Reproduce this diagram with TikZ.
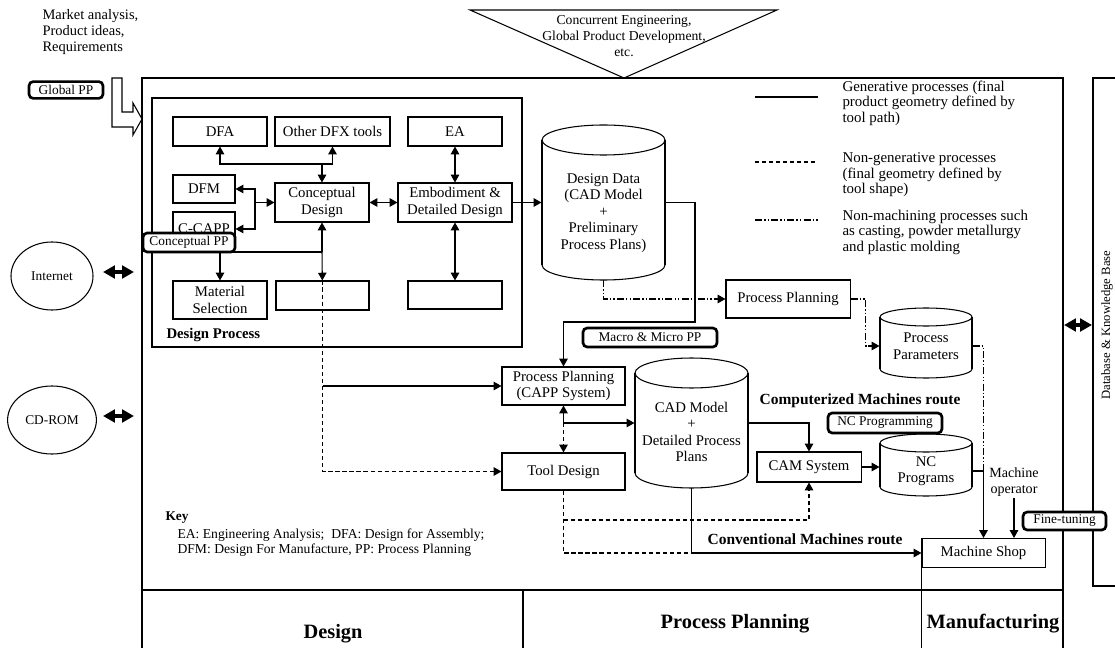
\documentclass[tikz,border=0pt]{standalone}
\usepackage{fontspec}
\setmainfont{Liberation Serif}
\usetikzlibrary{arrows.meta,positioning,shapes.geometric}

\tikzset{
  block/.style={draw, fill=white, align=center, inner sep=1pt},
  pptag/.style={draw, fill=white, rounded corners=3pt, line width=1.9pt, inner sep=1pt,
                font=\fontsize{9.5}{11}\selectfont},
  drumtext/.style={align=center, inner sep=0pt, font=\fontsize{10.5}{11.8}\selectfont},
  cloud/.style={draw, ellipse, minimum width=2.05cm, minimum height=1.7cm,
                font=\fontsize{9.5}{11}\selectfont},
  nongen/.style={dash pattern=on 3pt off 2pt},
  nonmach/.style={dash pattern=on 5pt off 1.5pt on 1pt off 1.5pt on 1pt off 1.5pt},
  fat/.style={{Triangle[length=8.5pt,width=9pt]}-{Triangle[length=8.5pt,width=9pt]}, line width=2.2pt},
  routelabel/.style={font=\bfseries\fontsize{11}{13}\selectfont},
  phase/.style={font=\bfseries\fontsize{14.5}{16}\selectfont},
  legendtext/.style={anchor=west, align=left, inner sep=0pt, font=\fontsize{10.6}{11}\selectfont},
}

% database drum: left, right, top, bottom, half height of the ellipse
\newcommand{\drum}[5]{%
  \draw (#1,#3+#5) -- (#1,#4-#5) (#2,#3+#5) -- (#2,#4-#5);
  \draw ({(#1+#2)/2},#3+#5) ellipse [x radius={(#2-#1)/2}, y radius=#5];
  \begin{scope}
    \clip (#1-2,#4-#5) rectangle (#2+2,#4+2);
    \draw ({(#1+#2)/2},#4-#5) ellipse [x radius={(#2-#1)/2}, y radius=#5];
  \end{scope}}

\begin{document}
\begin{tikzpicture}[x=0.025cm, y=-0.025cm, >={Triangle[length=5.5pt,width=6pt]},
                    line width=0.75pt, font=\fontsize{10.5}{11.5}\selectfont]
\useasboundingbox (0,0) rectangle (1115,648);

% frames
\draw (142,648) -- (142,78) -- (1063,78) -- (1063,648);
\draw (142,590) -- (1063,590);
\draw (523,590) -- (523,648);
\draw (152,98) rectangle (522,347);
\draw (1116,78) -- (1093,78) -- (1093,586) -- (1116,586);

% inputs
\node[anchor=west, align=left, inner sep=0pt, font=\fontsize{10.3}{11.4}\selectfont] (market) at (42,32)
  {Market analysis,\\Product ideas,\\Requirements};
\draw (470,10) -- (777,10) -- (624,78) -- cycle;
\node[align=center, font=\fontsize{9.7}{11.4}\selectfont] (ce) at (624,36)
  {Concurrent Engineering,\\Global Product Development,\\etc.};
\draw (112,78) -- (122,78) -- (122,112) -- (133,112) -- (133,103) -- (142,119)
  -- (133,135) -- (133,127) -- (112,127) -- cycle;
\node[pptag, minimum width=1.85cm, minimum height=0.42cm] (globpp) at (66,90) {Global PP};

% external sources
\node[cloud] (inet) at (52,276) {Internet};
\node[cloud] (cdrom) at (52,420) {CD-ROM};
\coordinate (inetA) at (103,272); \coordinate (inetB) at (134,272);
\coordinate (cdA) at (103,416); \coordinate (cdB) at (134,416);
\draw[fat] (inetA) -- (inetB);
\draw[fat] (cdA) -- (cdB);

% design process
\node[block, minimum width=2.35cm, minimum height=0.725cm] (dfa) at (220,131.5) {DFA};
\node[block, minimum width=2.875cm, minimum height=0.725cm] (dfx) at (332.5,131.5) {Other DFX tools};
\node[block, minimum width=2.35cm, minimum height=0.725cm] (ea) at (455,131.5) {EA};
\node[block, minimum width=1.55cm, minimum height=0.7cm] (dfm) at (204,189) {DFM};
\node[block, minimum width=1.55cm, minimum height=0.85cm] (ccapp) at (204,229) {C-CAPP};
\node[block, minimum width=2.35cm, minimum height=0.975cm] (concept) at (322,202.5) {Conceptual\\Design};
\node[block, minimum width=2.85cm, minimum height=0.975cm] (emb) at (455,202.5) {Embodiment \&\\Detailed Design};
\node[block, minimum width=2.35cm, minimum height=0.95cm] (matsel) at (220,300) {Material\\Selection};
\node[block, minimum width=2.325cm, minimum height=0.725cm] (blankA) at (322.5,295.5) {};
\node[block, minimum width=2.35cm, minimum height=0.7cm] (blankB) at (455,295) {};
\node[anchor=west, inner sep=0pt, font=\bfseries\fontsize{10.5}{12}\selectfont] (dplabel) at (166,335) {Design Process};

\coordinate (tbus) at (322,164);
\draw[<->] (dfa) |- (tbus) -| (dfx);
\draw[->] (tbus) -- (concept);
\coordinate (mbus) at (255,202.5);
\draw[<->] (dfm.east) -| (mbus) |- (ccapp.east);
\draw[->] (mbus) -- (concept);
\draw[<->] (concept) -- (emb);
\draw[<->] (ea) -- (emb);
\draw[<->] (emb) -- (blankB);
\coordinate (cbus) at (322,252);
\draw[<-] (concept) -- (cbus);
\draw[->] (cbus) -- (blankA);
\draw[->] (cbus) -| (matsel);
\node[pptag, minimum width=2.3cm, minimum height=0.475cm] (concpp) at (189,242.5) {Conceptual PP};

% design data
\drum{542}{665}{125}{280}{15}
\node[drumtext, minimum width=3.075cm] (ddata) at (603.5,213)
  {Design Data\\(CAD Model\\+\\Preliminary\\Process Plans)};
\draw[->] (emb) -- (emb -| ddata.west);

% process planning
\node[block, minimum width=3.1cm, minimum height=0.95cm] (pplan) at (788,299) {Process Planning};
\drum{880}{972}{308}{378}{9}
\node[drumtext, minimum width=2.3cm] (pparam) at (926,346) {Process\\Parameters};
\node[block, minimum width=3.075cm, minimum height=0.95cm] (capp) at (563.5,386) {Process Planning\\(CAPP System)};
\node[block, minimum width=3.075cm, minimum height=0.925cm] (tool) at (563.5,471.5) {Tool Design};
\drum{635}{748}{358}{488}{15}
\node[drumtext, minimum width=2.825cm] (cadm) at (691.5,432) {CAD Model\\+\\Detailed Process\\Plans};
\node[pptag, minimum width=3.35cm, minimum height=0.475cm] (macpp) at (650,337.5) {Macro \& Micro PP};

\coordinate (dl) at (695,322);
\draw[->] (emb -| ddata.east) -| (dl) -| (capp);
\coordinate (ddbot) at (603.5,280);
\draw[nonmach,->] (ddbot) |- (pplan);
\draw[nonmach,->] (pplan.east) -- ++(15,0) |- (pparam.west);
\draw[nongen,->] (blankA.north) |- (tool.west);
\draw[->] (blankA.south |- capp.west) -- (capp.west);
\coordinate (tj) at (563.5,423);
\draw[<-] (capp) -- (tj);
\draw[nongen,->] (tj) -- (tool);
\draw[->] (tj) -- (tj -| cadm.west);

% computerized route
\node[routelabel] (comproute) at (860,401) {Computerized Machines route};
\node[block, minimum width=2.6cm, minimum height=0.75cm] (cam) at (809,467) {CAM System};
\drum{880}{972}{434}{496}{9}
\node[drumtext, minimum width=2.3cm] (ncprog) at (926,471) {NC\\Programs};
\node[pptag, minimum width=2.85cm, minimum height=0.5cm] (ncpp) at (885,423) {NC Programming};
\coordinate (cadr) at (748,423);
\draw[->] (cadr) -| (cam);
\draw[->] (cam.east) -- (cam.east -| ncprog.west);

% manufacturing
\node[block, minimum width=3.075cm, minimum height=0.725cm] (shop) at (983.5,553) {Machine Shop};
\draw (shop.south west) -- ++(0,81);
\coordinate (mjoin) at (983.5,471);
\draw[nonmach] (pparam.east) -| (mjoin);
\draw[->] (ncprog.east) -| (shop.north);
\node[align=center, inner sep=1pt, font=\fontsize{10}{11.5}\selectfont] (oper) at (1014,482) {Machine\\operator};
\draw[->] (oper) -- (oper |- shop.north);

% conventional route
\node[routelabel] (convroute) at (805,539) {Conventional Machines route};
\coordinate (tb) at (563.5,520);
\coordinate (rj) at (691.5,553);
\draw[nongen] (tool) -- (tb) |- (rj);
\draw[nongen,->] (tb) -| (cam);
\coordinate (cadb) at (691.5,488);
\draw[->] (cadb) |- (shop);

% legend and key
\draw (755,97) -- (818,97);
\node[legendtext] (leggen) at (842,103) {Generative processes (final\\product geometry defined by\\tool path)};
\draw[nongen] (755,162) -- (818,162);
\node[legendtext] (legnongen) at (842,175) {Non-generative processes\\(final geometry defined by\\tool shape)};
\draw[nonmach] (755,220) -- (818,220);
\node[legendtext] (legnonmach) at (842,232) {Non-machining processes such\\as casting, powder metallurgy\\and plastic molding};
\node[anchor=west, inner sep=0pt, font=\bfseries\fontsize{9.5}{11}\selectfont] (keyhead) at (165,518) {Key};
\node[anchor=north west, align=left, inner sep=0pt, font=\fontsize{9.7}{11}\selectfont] (keytext) at (177,528)
  {EA: Engineering Analysis;\ \ DFA: Design for Assembly;\\DFM: Design For Manufacture, PP: Process Planning};

% phases and database
\node[phase] (phdesign) at (333,634) {Design};
\node[phase] (phplan) at (735,624) {Process Planning};
\node[phase] (phmanu) at (993,624) {Manufacturing};
\node[rotate=90, font=\fontsize{9}{10}\selectfont] (dbkb) at (1107,325) {Database \& Knowledge Base};
\coordinate (dbA) at (1064,325); \coordinate (dbB) at (1092,325);
\draw[fat] (dbA) -- (dbB);
\node[pptag, minimum width=2.075cm, minimum height=0.45cm] (finepp) at (1064.5,521) {Fine-tuning};
\end{tikzpicture}
\end{document}
